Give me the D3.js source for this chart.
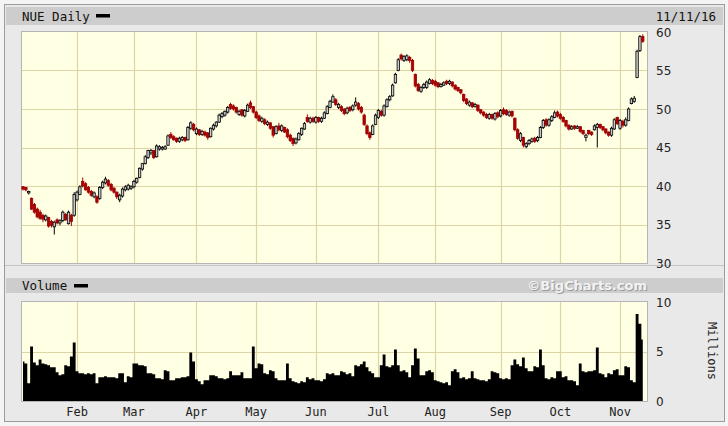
<!DOCTYPE html>
<html lang="en">
<head>
<meta charset="UTF-8">
<title>NUE Daily</title>
<script src="https://d3js.org/d3.v7.min.js"></script>
<style>
  body { margin: 0; background: #f2f2f2; }
  svg { display: block; }
</style>
</head>
<body>
<div id="chart"></div>
<script>
const width = 728;
const height = 426;

// trading calendar
const firstDay = "2016-01-04";
const lastDay = "2016-11-11";
const holidays = ["2016-01-18", "2016-02-15", "2016-03-25", "2016-05-30", "2016-07-04", "2016-09-05"];

const priceTicks = [30, 35, 40, 45, 50, 55, 60];
const volumeTicks = [0, 5, 10];

// daily prices, month by month (Jan .. Nov)
const opens = [
  39.9, 39.8, 39.1, 38.4, 37.6, 37.0, 36.6, 36.2, 35.6, 35.9, 35.4, 34.7, 35.6, 35.2, 35.5, 36.3, 35.1, 36.2, 36.2,
  38.2, 38.9, 40.6, 40.3, 39.8, 39.3, 38.6, 38.6, 38.4, 39.8, 40.4, 40.7, 40.2, 39.7, 39.2, 38.2, 38.7, 39.5, 39.6, 39.7,
  39.9, 40.5, 41.1, 42.2, 42.9, 43.7, 44.3, 44.6, 43.8, 44.8, 44.8, 44.8, 45.3, 46.7, 46.4, 46.2, 45.8, 46.0, 46.3, 46.0, 47.5, 48.0,
  46.8, 47.3, 46.7, 47.0, 46.9, 46.4, 47.4, 47.8, 48.3, 49.0, 49.2, 49.6, 50.6, 50.4, 50.2, 49.3, 49.9, 49.1, 49.7, 50.8, 50.3,
  49.6, 49.1, 48.4, 48.6, 48.0, 48.2, 47.7, 46.8, 47.8, 47.2, 47.6, 47.3, 46.6, 46.2, 45.6, 46.0, 46.7, 47.4, 48.9, 48.3, 48.8,
  48.3, 48.9, 48.4, 48.8, 49.4, 50.2, 50.9, 51.2, 50.2, 50.3, 50.0, 49.5, 50.2, 49.9, 50.5, 50.7, 50.2, 49.2, 47.8, 46.9, 46.7, 48.0,
  48.9, 49.7, 49.2, 50.3, 51.2, 51.7, 53.4, 55.0, 57.0, 56.3, 56.4, 56.7, 56.3, 54.5, 53.2, 52.3, 52.8, 52.8, 53.3, 53.7,
  53.6, 53.4, 52.9, 53.1, 53.6, 53.3, 53.5, 53.1, 52.8, 52.5, 51.9, 51.3, 50.5, 50.8, 50.3, 50.5, 49.9, 49.6, 49.3, 48.8, 49.3, 48.7, 49.5,
  49.1, 49.9, 49.8, 49.2, 49.7, 48.8, 47.3, 45.9, 46.3, 45.1, 45.5, 45.8, 46.2, 45.9, 46.3, 47.6, 48.6, 47.9, 48.5, 48.9, 49.6,
  49.3, 48.9, 48.5, 47.9, 47.4, 47.8, 47.5, 47.7, 47.2, 46.3, 47.2, 47.0, 47.3, 47.6, 48.0, 47.7, 47.4, 47.0, 46.6, 47.4, 48.9,
  47.5, 48.4, 47.9, 48.5, 50.7, 51.0, 54.1, 57.6, 59.4
];
const highs = [
  40.0, 39.9, 39.4, 38.5, 37.8, 37.2, 36.9, 36.4, 36.3, 36.0, 35.6, 35.5, 35.8, 35.7, 36.8, 36.5, 36.8, 36.4, 39.2,
  39.4, 40.1, 41.1, 40.5, 40.0, 39.5, 39.3, 38.8, 40.0, 40.7, 41.2, 40.9, 40.4, 39.9, 39.3, 39.0, 39.8, 40.1, 40.3, 40.1,
  40.8, 41.1, 42.4, 43.0, 44.0, 44.7, 44.8, 44.7, 45.4, 45.3, 45.2, 45.3, 46.7, 47.0, 46.6, 46.3, 46.4, 46.5, 46.4, 47.8, 48.4, 48.2,
  47.6, 47.4, 47.3, 47.2, 47.0, 47.6, 48.1, 48.4, 49.4, 49.6, 49.8, 50.4, 50.8, 50.6, 50.3, 49.9, 50.0, 50.0, 50.7, 51.1, 50.4,
  49.8, 49.3, 49.0, 48.8, 48.5, 48.3, 47.8, 47.9, 48.2, 48.0, 47.7, 47.5, 46.8, 46.3, 46.3, 47.0, 47.6, 48.3, 49.3, 49.0, 49.0,
  49.1, 49.0, 49.0, 49.7, 50.5, 51.2, 51.9, 51.4, 50.8, 50.5, 50.1, 50.3, 50.4, 50.6, 51.5, 50.9, 50.4, 49.4, 48.0, 47.1, 48.0, 49.4,
  50.0, 49.9, 50.6, 51.4, 51.8, 53.3, 54.7, 56.6, 57.2, 57.0, 57.1, 56.9, 56.5, 54.6, 53.4, 53.0, 53.4, 53.7, 54.0, 53.9,
  53.8, 53.5, 53.4, 53.6, 53.8, 53.8, 53.6, 53.2, 52.9, 52.6, 52.0, 51.4, 51.1, 50.9, 50.8, 50.6, 50.0, 49.7, 49.5, 49.5, 49.4, 49.6, 49.7,
  50.0, 50.2, 50.0, 49.8, 49.8, 48.9, 47.5, 47.0, 46.4, 45.7, 46.1, 46.3, 46.4, 46.5, 47.8, 48.7, 48.8, 48.8, 49.2, 49.8, 49.8,
  49.5, 49.1, 48.6, 48.0, 47.9, 47.9, 47.9, 47.8, 47.3, 46.8, 47.3, 47.1, 48.0, 48.2, 48.1, 47.8, 47.5, 47.1, 47.7, 48.8, 49.0,
  48.7, 48.6, 48.9, 50.2, 51.5, 51.7, 57.7, 59.6, 59.7
];
const lows = [
  39.4, 39.3, 38.9, 36.9, 36.4, 35.8, 35.6, 35.3, 35.4, 34.6, 34.6, 33.7, 35.0, 34.9, 35.3, 35.5, 35.0, 34.8, 36.0,
  38.0, 38.8, 39.8, 39.4, 39.0, 38.6, 38.4, 37.7, 38.2, 39.6, 40.2, 39.9, 39.3, 39.0, 38.3, 37.9, 38.5, 39.3, 39.4, 39.5,
  39.7, 40.3, 41.0, 42.0, 42.8, 43.5, 44.0, 43.5, 43.7, 44.6, 44.6, 44.7, 45.2, 46.1, 45.9, 45.6, 45.6, 45.8, 45.7, 45.9, 47.3, 47.1,
  46.6, 46.5, 46.5, 46.4, 46.0, 46.3, 47.2, 47.6, 48.2, 48.8, 49.0, 49.4, 49.9, 49.8, 49.4, 49.1, 49.0, 48.9, 49.6, 50.0, 49.4,
  48.7, 48.3, 48.2, 47.9, 47.8, 47.3, 46.3, 46.7, 47.1, 47.0, 46.9, 46.2, 45.7, 45.2, 45.4, 45.9, 46.5, 47.3, 48.2, 48.1, 48.2,
  48.1, 48.2, 48.2, 48.7, 49.3, 50.1, 50.8, 50.4, 50.0, 49.6, 49.2, 49.3, 49.6, 49.7, 50.3, 49.8, 49.4, 47.8, 46.6, 46.0, 46.6, 47.9,
  48.7, 49.0, 49.0, 50.2, 51.0, 51.6, 53.3, 54.9, 56.3, 56.1, 56.2, 56.0, 54.8, 52.8, 52.2, 52.1, 52.6, 52.6, 53.2, 53.1,
  52.9, 52.7, 52.8, 53.0, 53.1, 53.1, 52.8, 52.4, 52.2, 51.9, 50.9, 50.5, 50.3, 50.1, 50.2, 49.6, 49.3, 49.0, 48.7, 48.6, 48.6, 48.5, 48.8,
  48.9, 49.2, 49.1, 49.0, 48.9, 47.1, 46.0, 45.7, 45.0, 44.9, 45.3, 45.6, 45.6, 45.7, 46.2, 47.4, 47.7, 47.7, 48.3, 48.8, 48.9,
  48.6, 48.2, 47.6, 47.2, 47.3, 47.3, 47.4, 46.9, 46.6, 45.8, 46.6, 46.5, 47.2, 45.0, 47.4, 47.1, 46.7, 46.4, 46.4, 47.3, 47.9,
  47.3, 47.6, 47.7, 48.4, 50.6, 50.8, 54.0, 57.4, 58.6
];
const closes = [
  39.6, 39.5, 39.3, 37.0, 36.6, 36.0, 35.8, 35.7, 36.1, 34.8, 34.9, 35.3, 35.2, 35.5, 36.6, 35.6, 36.6, 35.4, 38.9,
  39.2, 39.9, 40.0, 39.5, 39.2, 38.8, 39.1, 37.9, 39.8, 40.5, 40.9, 40.1, 39.5, 39.2, 38.6, 38.8, 39.6, 39.9, 40.1, 39.9,
  40.6, 41.0, 42.3, 42.9, 43.8, 44.6, 44.6, 43.7, 45.2, 45.1, 45.0, 45.1, 46.5, 46.3, 46.0, 45.8, 46.2, 46.3, 45.9, 47.6, 48.2, 47.3,
  47.4, 46.7, 47.1, 46.6, 46.3, 47.5, 47.9, 48.3, 49.2, 49.4, 49.7, 50.2, 50.1, 50.0, 49.6, 49.7, 49.2, 49.8, 50.5, 50.2, 49.6,
  48.9, 48.5, 48.8, 48.1, 48.3, 47.5, 46.6, 47.7, 47.3, 47.8, 47.0, 46.4, 45.9, 45.5, 46.1, 46.8, 47.5, 48.1, 48.4, 48.8, 48.4,
  48.9, 48.4, 48.8, 49.5, 50.3, 51.0, 51.6, 50.6, 50.6, 49.8, 49.4, 50.1, 49.8, 50.4, 50.9, 50.0, 49.6, 48.0, 46.8, 46.3, 47.8, 49.2,
  49.8, 49.2, 50.4, 51.2, 51.6, 53.1, 54.5, 56.4, 56.5, 56.8, 56.9, 56.3, 55.0, 53.0, 52.4, 52.8, 53.2, 53.5, 53.8, 53.3,
  53.1, 52.9, 53.2, 53.4, 53.3, 53.6, 53.0, 52.6, 52.4, 52.1, 51.1, 50.7, 50.9, 50.3, 50.6, 49.8, 49.5, 49.2, 48.9, 49.3, 48.8, 49.4, 49.0,
  49.8, 49.4, 49.3, 49.6, 49.1, 47.3, 46.2, 46.8, 45.3, 45.5, 45.9, 46.1, 45.8, 46.3, 47.6, 48.5, 47.9, 48.6, 49.0, 49.5, 49.1,
  48.8, 48.4, 47.8, 47.4, 47.7, 47.5, 47.7, 47.1, 46.8, 46.6, 46.8, 46.7, 47.8, 48.0, 47.6, 47.3, 46.9, 46.6, 47.5, 48.6, 48.1,
  48.5, 47.9, 48.6, 50.0, 51.3, 51.4, 57.5, 59.4, 58.8
];
// volume, millions of shares
const volumes = [
  4.0, 3.8, 1.8, 5.5, 3.9, 3.6, 4.2, 3.8, 3.7, 3.6, 3.4, 3.4, 2.9, 2.6, 2.7, 3.6, 3.5, 4.5, 5.9,
  3.0, 2.8, 2.8, 2.7, 2.8, 2.7, 2.8, 1.8, 2.4, 2.4, 2.5, 2.4, 2.4, 2.4, 2.3, 2.8, 2.8, 1.9, 2.5, 2.4,
  3.8, 3.8, 3.6, 3.6, 3.5, 2.8, 2.8, 2.7, 2.3, 2.3, 2.2, 3.1, 3.0, 2.1, 2.1, 2.3, 2.3, 2.4, 2.4, 2.5, 4.9, 4.0,
  2.2, 2.0, 1.7, 2.1, 2.1, 2.6, 2.6, 2.5, 2.3, 2.3, 2.2, 2.3, 3.0, 2.6, 2.6, 2.6, 2.9, 2.3, 2.3, 2.3, 5.5,
  3.3, 3.8, 3.7, 2.8, 2.7, 3.1, 3.0, 2.3, 2.1, 2.1, 2.1, 3.8, 2.3, 2.0, 1.9, 1.8, 2.0, 1.9, 2.4, 2.2, 2.3,
  2.1, 2.1, 2.0, 2.2, 2.8, 2.7, 2.8, 2.6, 2.6, 3.0, 2.9, 2.7, 2.8, 2.5, 3.6, 3.5, 3.7, 4.0, 3.4, 3.0, 2.8, 2.4,
  2.4, 3.6, 4.7, 3.5, 3.4, 3.6, 5.2, 3.6, 3.0, 3.1, 2.9, 2.4, 3.6, 5.3, 4.3, 2.6, 2.6, 3.0, 3.1, 2.9,
  2.1, 2.0, 1.9, 1.8, 1.9, 1.6, 3.0, 3.2, 2.9, 2.3, 2.4, 2.2, 2.3, 3.0, 2.3, 2.2, 2.1, 2.1, 2.0, 2.2, 3.0, 2.9, 2.8,
  2.3, 2.2, 2.3, 2.2, 3.6, 4.2, 3.7, 3.5, 4.4, 3.3, 3.0, 3.0, 3.5, 3.4, 5.2, 3.6, 2.3, 2.2, 2.4, 2.3, 3.0,
  3.0, 2.4, 2.5, 2.1, 2.1, 2.0, 1.6, 3.8, 3.0, 2.9, 3.0, 3.0, 3.1, 5.4, 2.8, 2.7, 2.4, 2.8, 2.7, 3.1, 3.2,
  2.6, 2.6, 3.5, 3.4, 2.1, 1.9, 8.8, 7.8, 6.2
];

const parse = d3.timeParse("%Y-%m-%d");
const fmt = d3.timeFormat("%Y-%m-%d");
const days = d3.timeDay.range(parse(firstDay), d3.timeDay.offset(parse(lastDay), 1))
  .filter(d => d.getDay() !== 0 && d.getDay() !== 6 && !holidays.includes(fmt(d)));

const data = days.map((d, i) => ({
  date: d, open: opens[i], high: highs[i], low: lows[i], close: closes[i], volume: volumes[i]
}));

// first trading day of each month (gridlines + labels)
const monthStarts = days.filter((d, i) => i > 0 && d.getMonth() !== days[i - 1].getMonth());

const svg = d3.select("#chart").append("svg")
  .attr("width", width)
  .attr("height", height);

const plotLeft = 22, plotRight = 647;
const priceTop = 32, priceBottom = 263;
const volTop = 302, volBottom = 401;

const x = d3.scaleBand()
  .domain(days)
  .range([21.6, 644.2]);
const cx = d => x(d) + x.bandwidth() / 2;

const y = d3.scaleLinear().domain([30, 60]).range([priceBottom, priceTop]);
const yv = d3.scaleLinear().domain([0, 10]).range([volBottom, volTop]);

const mono = "'DejaVu Sans Mono', monospace";
const sans = "'DejaVu Sans', Verdana, sans-serif";

// frame
svg.append("rect").attr("width", width).attr("height", height).attr("fill", "#f4f4f4");
svg.append("rect")
  .attr("x", 4.5).attr("y", 4.5).attr("width", 720).attr("height", 417)
  .attr("fill", "#e9e9e9").attr("stroke", "#9c9c9c");

// header bands
svg.append("rect").attr("x", 6).attr("y", 7).attr("width", 717).attr("height", 18).attr("fill", "#cdcdcd");
svg.append("rect").attr("x", 6).attr("y", 278).attr("width", 717).attr("height", 15).attr("fill", "#cdcdcd");
svg.append("line").attr("x1", 5).attr("x2", 724).attr("y1", 265.5).attr("y2", 265.5).attr("stroke", "#c4c4c4");

svg.append("text").attr("x", 22).attr("y", 20.5)
  .attr("font-family", mono).attr("font-size", 12.5).attr("fill", "#111")
  .text("NUE Daily");
svg.append("rect").attr("x", 96).attr("y", 14).attr("width", 14).attr("height", 3.5).attr("fill", "#000");

svg.append("text").attr("x", 716).attr("y", 20.5).attr("text-anchor", "end")
  .attr("font-family", mono).attr("font-size", 12.5).attr("fill", "#111")
  .text("11/11/16");

svg.append("text").attr("x", 22).attr("y", 290)
  .attr("font-family", mono).attr("font-size", 12.5).attr("fill", "#111")
  .text("Volume");
svg.append("rect").attr("x", 74).attr("y", 284).attr("width", 14).attr("height", 3.5).attr("fill", "#000");

// watermark with a soft shadow
svg.append("text").attr("x", 648).attr("y", 291).attr("text-anchor", "end")
  .attr("font-family", sans).attr("font-weight", "bold").attr("font-size", 13)
  .attr("fill", "#9a9a9a").text("\u00a9BigCharts.com");
svg.append("text").attr("x", 647).attr("y", 290).attr("text-anchor", "end")
  .attr("font-family", sans).attr("font-weight", "bold").attr("font-size", 13)
  .attr("fill", "#f2f2f2").text("\u00a9BigCharts.com");

// plot backgrounds
[[priceTop, priceBottom], [volTop, volBottom]].forEach(function (r) {
  svg.append("rect")
    .attr("x", plotLeft).attr("y", r[0])
    .attr("width", plotRight - plotLeft).attr("height", r[1] - r[0])
    .attr("fill", "#ffffe3");
});

const gridColor = "#dcd6a6";

// vertical month gridlines in both panels
[[priceTop, priceBottom], [volTop, volBottom]].forEach(function (r) {
  svg.append("g").selectAll("line")
    .data(monthStarts)
    .join("line")
    .attr("x1", d => Math.round(cx(d)) + 0.5).attr("x2", d => Math.round(cx(d)) + 0.5)
    .attr("y1", r[0]).attr("y2", r[1])
    .attr("stroke", gridColor).attr("stroke-width", 1.2);
});

svg.append("g").selectAll("line")
  .data(priceTicks.slice(1, -1))
  .join("line")
  .attr("x1", plotLeft).attr("x2", plotRight)
  .attr("y1", d => Math.round(y(d)) + 0.5).attr("y2", d => Math.round(y(d)) + 0.5)
  .attr("stroke", gridColor).attr("stroke-width", 1.2);

svg.append("line")
  .attr("x1", plotLeft).attr("x2", plotRight)
  .attr("y1", Math.round(yv(5)) + 0.5).attr("y2", Math.round(yv(5)) + 0.5)
  .attr("stroke", gridColor).attr("stroke-width", 1.2);

// plot borders
[[priceTop, priceBottom], [volTop, volBottom]].forEach(function (r) {
  svg.append("rect")
    .attr("x", plotLeft - 0.5).attr("y", r[0] - 0.5)
    .attr("width", plotRight - plotLeft + 1).attr("height", r[1] - r[0] + 1)
    .attr("fill", "none").attr("stroke", "#b5b5b5");
});

// volume as a stepped black area
const area = d3.area()
  .x(d => cx(d.date))
  .y0(yv(0))
  .y1(d => yv(d.volume))
  .curve(d3.curveStep);
svg.append("path")
  .datum(data)
  .attr("d", area)
  .attr("fill", "#000");

// candlesticks
const bodyW = 2.4;
const candles = svg.append("g").selectAll("g")
  .data(data)
  .join("g");

candles.append("line")
  .attr("x1", d => cx(d.date)).attr("x2", d => cx(d.date))
  .attr("y1", d => y(d.high)).attr("y2", d => y(d.low))
  .attr("stroke", d => d.close < d.open ? "#a30000" : "#000")
  .attr("stroke-width", 1);

candles.append("rect")
  .attr("x", d => cx(d.date) - bodyW / 2)
  .attr("y", d => y(Math.max(d.open, d.close)))
  .attr("width", bodyW)
  .attr("height", d => Math.max(0.8, Math.abs(y(d.open) - y(d.close))))
  .attr("fill", d => d.close < d.open ? "#b10000" : "#c9c9c9")
  .attr("stroke", d => d.close < d.open ? "#9a0000" : "#000")
  .attr("stroke-width", 0.8);

// right-hand axis labels
svg.append("g").selectAll("text")
  .data(priceTicks)
  .join("text")
  .attr("x", 656).attr("y", d => y(d) + 4.5)
  .attr("font-family", sans).attr("font-size", 12).attr("fill", "#222")
  .text(d => d);

svg.append("g").selectAll("text")
  .data(volumeTicks)
  .join("text")
  .attr("x", 656).attr("y", d => yv(d) + 4.5)
  .attr("font-family", sans).attr("font-size", 12).attr("fill", "#222")
  .text(d => d);

svg.append("text")
  .attr("transform", "translate(708,351) rotate(90)")
  .attr("text-anchor", "middle")
  .attr("font-family", mono).attr("font-size", 12).attr("fill", "#222")
  .text("Millions");

// month labels
svg.append("g").selectAll("text")
  .data(monthStarts)
  .join("text")
  .attr("x", d => cx(d)).attr("y", 415.5)
  .attr("text-anchor", "middle")
  .attr("font-family", mono).attr("font-size", 12).attr("fill", "#222")
  .text(d3.timeFormat("%b"));
</script>
</body>
</html>
